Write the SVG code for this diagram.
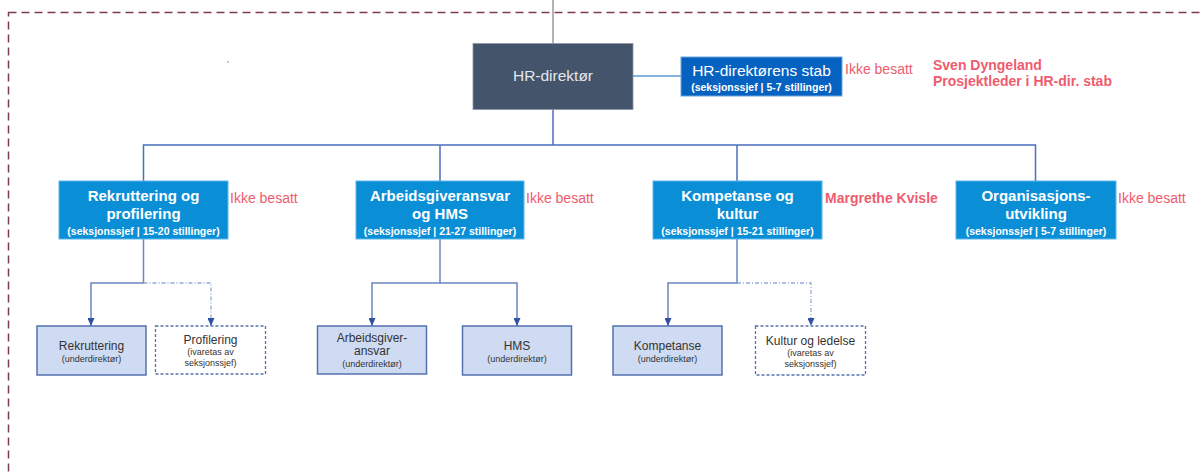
<svg xmlns="http://www.w3.org/2000/svg" width="1204" height="473" viewBox="0 0 1204 473">
<style>
text{font-family:"Liberation Sans",Arial,sans-serif;}
.frame{fill:none;stroke:#7b3b55;stroke-width:1.5;stroke-dasharray:8 5;}
.l1{fill:#0a8fd7;stroke:#5ab4ea;stroke-width:1;}
.t1{fill:#fff;font-size:15px;font-weight:bold;text-anchor:middle;}
.s1{fill:#fff;font-size:10.5px;font-weight:bold;text-anchor:middle;}
.red{fill:#ef5b6e;font-size:14px;}
.redb{fill:#ef5b6e;font-size:14px;font-weight:bold;}
.c{fill:#cfdbf2;stroke:#5471ad;stroke-width:1.5;}
.cd{fill:#fff;stroke:#5471ad;stroke-width:1.3;stroke-dasharray:3 2;}
.ct{fill:#333;font-size:12px;text-anchor:middle;}
.cs{fill:#333;font-size:9px;text-anchor:middle;}
.ln{fill:none;stroke:#4a6fbd;stroke-width:1.5;}
.lc{fill:none;stroke:#6b86bf;stroke-width:1.5;}
.ld{fill:none;stroke:#93abd9;stroke-width:1.3;stroke-dasharray:4 2 1 2;}
</style>
<defs>
<marker id="arr" viewBox="0 0 8 7" refX="8" refY="3.5" markerWidth="8" markerHeight="7" markerUnits="userSpaceOnUse" orient="auto">
<path d="M0,0 L8,3.5 L0,7 Z" fill="#2f52a3"/>
</marker>
</defs>
<rect class="frame" x="8.5" y="12.5" width="1300" height="600"/>
<circle cx="228" cy="62" r="0.7" fill="#666"/>
<g id="connectors">
<line x1="553" y1="0" x2="553" y2="44" stroke="#808080" stroke-width="1.2"/>
<line x1="633" y1="76" x2="681" y2="76" stroke="#5b9bd5" stroke-width="1.5"/>
<path class="ln" d="M553,109 V145"/>
<path class="ln" d="M143.5,181 V145 H1035.5 V181"/>
<path class="ln" d="M440,145 V181"/>
<path class="ln" d="M737,145 V181"/>
<path class="lc" d="M143.5,239 V283 H91 V326" marker-end="url(#arr)"/>
<path class="ld" d="M143.5,283 H211 V326" marker-end="url(#arr)"/>
<path class="lc" d="M440,239 V283 H372 V326" marker-end="url(#arr)"/>
<path class="lc" d="M440,283 H517 V326" marker-end="url(#arr)"/>
<path class="lc" d="M737,239 V283 H668 V326" marker-end="url(#arr)"/>
<path class="ld" d="M737,283 H811 V326" marker-end="url(#arr)"/>
</g>
<g id="hr-direktor">
<rect x="473" y="43.5" width="160" height="66" fill="#44546a" stroke="#8a96a8" stroke-width="0.8"/>
<text x="553" y="81" fill="#e3e7ee" font-size="15.5" text-anchor="middle">HR-direktør</text>
</g>
<g id="stab">
<rect x="681" y="57" width="161" height="39" fill="#0662c1" stroke="#6aa5dd" stroke-width="1"/>
<text x="761.5" y="76" fill="#fff" font-size="15.5" text-anchor="middle">HR-direktørens stab</text>
<text x="761.5" y="91" class="s1">(seksjonssjef | 5-7 stillinger)</text>
<text x="845" y="74" class="red">Ikke besatt</text>
<text x="933" y="70" class="redb">Sven Dyngeland</text>
<text x="933" y="86" class="redb">Prosjektleder i HR-dir. stab</text>
</g>
<g id="rekruttering-profilering">
<rect class="l1" x="59" y="181" width="169" height="58"/>
<text x="143.5" y="200.5" class="t1">Rekruttering og</text>
<text x="143.5" y="218.5" class="t1">profilering</text>
<text x="143.5" y="234.5" class="s1">(seksjonssjef | 15-20 stillinger)</text>
<text x="230" y="203" class="red">Ikke besatt</text>
</g>
<g id="arbeidsgiveransvar-hms">
<rect class="l1" x="356" y="181" width="168" height="58"/>
<text x="440" y="200.5" class="t1">Arbeidsgiveransvar</text>
<text x="440" y="218.5" class="t1">og HMS</text>
<text x="440" y="234.5" class="s1">(seksjonssjef | 21-27 stillinger)</text>
<text x="526" y="203" class="red">Ikke besatt</text>
</g>
<g id="kompetanse-kultur">
<rect class="l1" x="653" y="181" width="169" height="58"/>
<text x="737.5" y="200.5" class="t1">Kompetanse og</text>
<text x="737.5" y="218.5" class="t1">kultur</text>
<text x="737.5" y="234.5" class="s1">(seksjonssjef | 15-21 stillinger)</text>
<text x="825" y="203" class="redb">Margrethe Kvisle</text>
</g>
<g id="organisasjonsutvikling">
<rect class="l1" x="956" y="181" width="160" height="58"/>
<text x="1036" y="200.5" class="t1">Organisasjons-</text>
<text x="1036" y="218.5" class="t1">utvikling</text>
<text x="1036" y="234.5" class="s1">(seksjonssjef | 5-7 stillinger)</text>
<text x="1118" y="203" class="red">Ikke besatt</text>
</g>
<g id="rekruttering">
<rect class="c" x="37" y="326" width="109" height="49"/>
<text x="91.5" y="350" class="ct">Rekruttering</text>
<text x="91.5" y="362" class="cs">(underdirektør)</text>
</g>
<g id="profilering">
<rect class="cd" x="155.5" y="326" width="110" height="48"/>
<text x="210.5" y="344" class="ct">Profilering</text>
<text x="210.5" y="355" class="cs">(ivaretas av</text>
<text x="210.5" y="366" class="cs">seksjonssjef)</text>
</g>
<g id="arbeidsgiveransvar">
<rect class="c" x="317.5" y="326" width="109" height="48"/>
<text x="372" y="342" class="ct">Arbeidsgiver-</text>
<text x="372" y="355" class="ct">ansvar</text>
<text x="372" y="367" class="cs">(underdirektør)</text>
</g>
<g id="hms">
<rect class="c" x="462.5" y="326" width="109" height="49"/>
<text x="517" y="350" class="ct">HMS</text>
<text x="517" y="362" class="cs">(underdirektør)</text>
</g>
<g id="kompetanse">
<rect class="c" x="613" y="326" width="109" height="49"/>
<text x="667.5" y="350" class="ct">Kompetanse</text>
<text x="667.5" y="362" class="cs">(underdirektør)</text>
</g>
<g id="kultur-ledelse">
<rect class="cd" x="755.5" y="326" width="110" height="49"/>
<text x="810.5" y="345" class="ct">Kultur og ledelse</text>
<text x="810.5" y="356" class="cs">(ivaretas av</text>
<text x="810.5" y="367" class="cs">seksjonssjef)</text>
</g>
</svg>
